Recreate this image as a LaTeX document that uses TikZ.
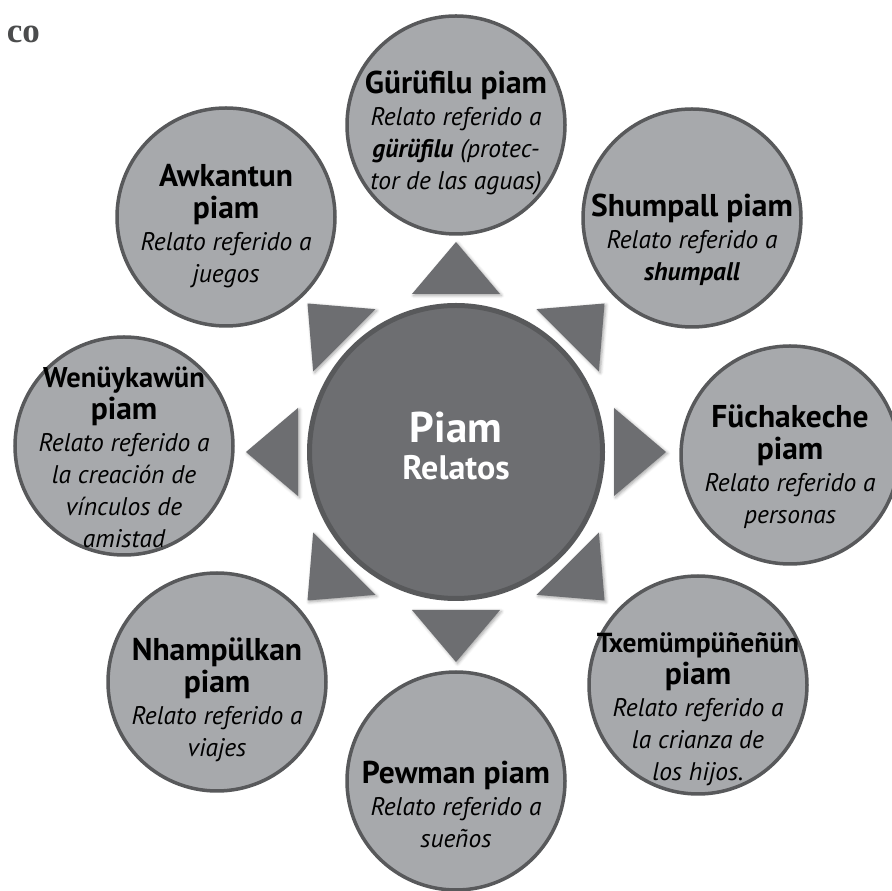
\documentclass[tikz,border=0pt]{standalone}
\usepackage{fontspec}
\setmainfont{PT Sans}
\newfontfamily\cofont{Liberation Serif}
\usetikzlibrary{shadows.blur}
\definecolor{hubgray}{HTML}{6D6E71}
\definecolor{rimgray}{HTML}{58595B}
\definecolor{bubgray}{HTML}{A7A9AC}
\newcommand{\ttl}[2][31.5]{{\fontsize{#1}{32}\selectfont\bfseries\upshape #2}}
\begin{document}
\begin{tikzpicture}[x=1pt,y=1pt]
\tikzset{hub/.style = {shape=circle,draw=rimgray,line width=5pt,fill=hubgray,minimum size=293pt,inner sep=0pt}}
\tikzset{bubble/.style = {shape=circle,draw=rimgray,line width=3.5pt,fill=bubgray,minimum size=218pt,inner sep=0pt}}
\tikzset{bubtext/.style = {align=center,inner sep=0pt,font=\fontsize{25.5}{32}\selectfont\itshape}}
\tikzset{hubtext/.style = {anchor=base,inner sep=0pt,text=white,font=\bfseries}}
\tikzset{pointer/.style = {fill=hubgray,shift={(hub.center)},blur shadow={shadow xshift=1.5pt,shadow yshift=-1.5pt,shadow blur radius=3pt,shadow opacity=35}}}
\useasboundingbox (0,0) rectangle (891,891);
% cut-off heading in the corner
\node[anchor=base east,inner sep=0pt,text=rimgray!85!black,font=\cofont\bfseries\fontsize{35}{35}\selectfont] (head) at (40,848) {co};
% centre
\node[hub] (hub) at (456,439) {};
\node[hubtext,font=\bfseries\fontsize{43}{43}\selectfont] (hub-a) at (456,448) {Piam};
\node[hubtext,font=\bfseries\fontsize{34}{34}\selectfont] (hub-b) at (456,411) {Relatos};
% triangles round the centre
\fill[pointer,rotate=90] (210,0) -- (158,44) -- (158,-44) -- cycle;
\fill[pointer,rotate=45] (210,0) -- (158,44) -- (158,-44) -- cycle;
\fill[pointer,rotate=0] (210,0) -- (158,44) -- (158,-44) -- cycle;
\fill[pointer,rotate=-45] (210,0) -- (158,44) -- (158,-44) -- cycle;
\fill[pointer,rotate=-90] (210,0) -- (158,44) -- (158,-44) -- cycle;
\fill[pointer,rotate=-135] (210,0) -- (158,44) -- (158,-44) -- cycle;
\fill[pointer,rotate=180] (210,0) -- (158,44) -- (158,-44) -- cycle;
\fill[pointer,rotate=135] (210,0) -- (158,44) -- (158,-44) -- cycle;
% outer circles, clockwise from the top
\node[bubble] (gur) at (456,766) {};
\node[bubble] (shu) at (692,673) {};
\node[bubble] (fuc) at (790,436) {};
\node[bubble] (txe) at (698,206) {};
\node[bubble] (pew) at (456,110) {};
\node[bubble] (nha) at (217,209) {};
\node[bubble] (wen) at (124,445) {};
\node[bubble] (awk) at (226,674) {};
% texts in the outer circles
\node[bubtext] (gur-t) at ([yshift=-8pt]gur.center) {\ttl{Gürüfilu piam}\\ Relato referido a\\ \textbf{gürüfilu} (protec-\\ tor de las aguas)};
\node[bubtext] (shu-t) at ([yshift=-22pt]shu.center) {\ttl{Shumpall piam}\\ Relato referido a\\ \textbf{shumpall}};
\node[bubtext] (fuc-t) at ([yshift=-12pt]fuc.center) {\ttl{Füchakeche}\\ \ttl{piam}\\ Relato referido a\\ personas};
\node[bubtext] (txe-t) at ([yshift=-24pt]txe.center) {\ttl[27.5]{Txemümpüñeñün}\\ \ttl{piam}\\ Relato referido a\\ la crianza de\\ los hijos.};
\node[bubtext] (pew-t) at ([yshift=-23pt]pew.center) {\ttl{Pewman piam}\\ Relato referido a\\ sueños};
\node[bubtext] (nha-t) at ([yshift=-18pt]nha.center) {\ttl{Nhampülkan}\\ \ttl{piam}\\ Relato referido a\\ viajes};
\node[bubtext] (wen-t) at ([yshift=-11pt]wen.center) {\ttl[28.5]{Wenüykawün}\\ \ttl{piam}\\ Relato referido a\\ la creación de\\ vínculos de\\ amistad};
\node[bubtext] (awk-t) at ([yshift=-9pt]awk.center) {\ttl{Awkantun}\\ \ttl{piam}\\ Relato referido a\\ juegos};
\end{tikzpicture}
\end{document}
